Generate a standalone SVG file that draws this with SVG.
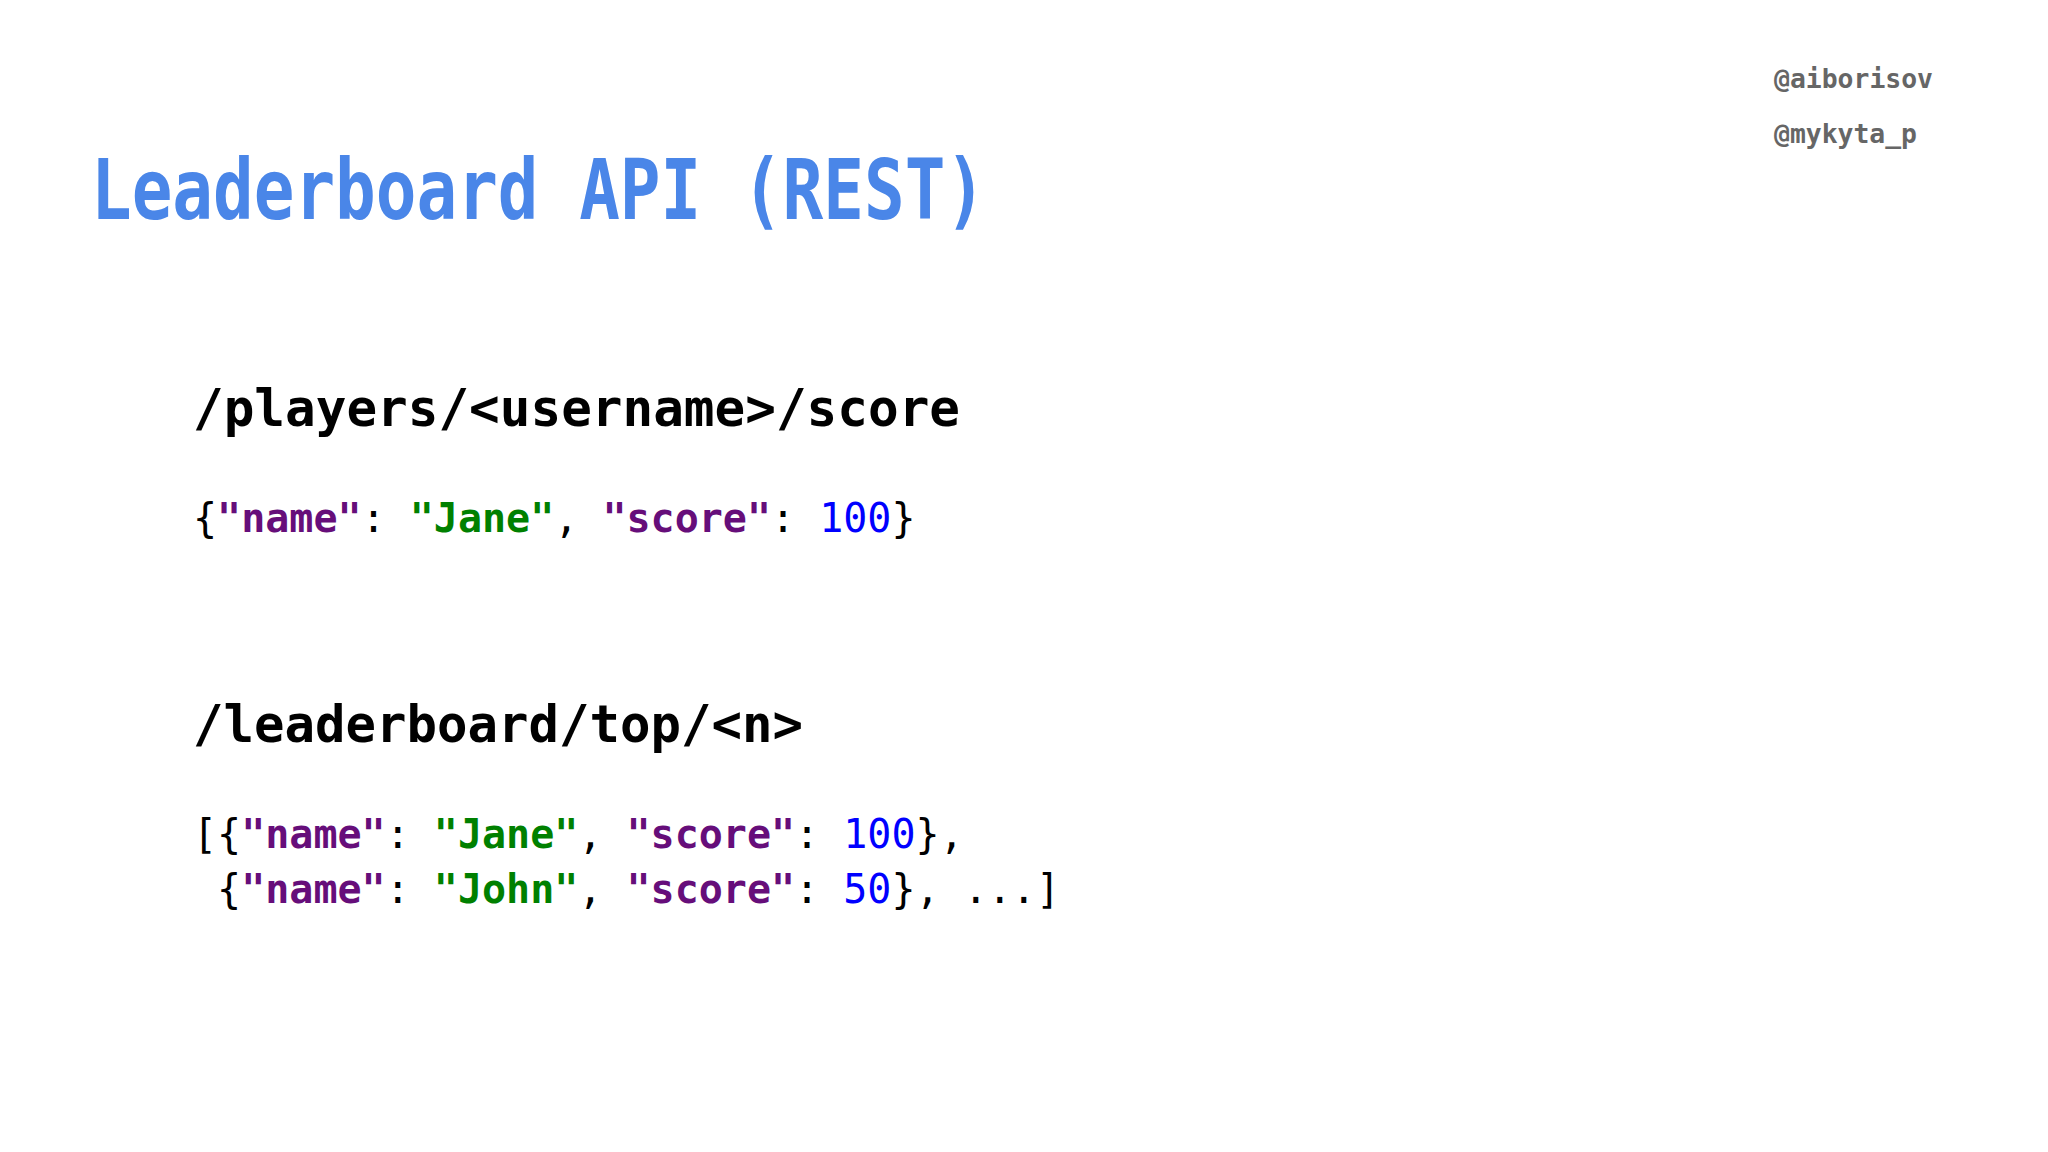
<svg xmlns="http://www.w3.org/2000/svg" width="2048" height="1152" viewBox="0 0 2048 1152">
<style>
.title{font-family:"DejaVu Sans Mono","Liberation Mono",monospace;font-weight:bold;font-size:84px;fill:#4a86e8}
.h{font-family:"DejaVu Sans Mono","Liberation Mono",monospace;font-weight:bold;font-size:51px;fill:#000}
.c{font-family:"DejaVu Sans Mono","Liberation Mono",monospace;font-size:40px;fill:#000}
.k{fill:#660e7a;font-weight:bold}
.s{fill:#008000;font-weight:bold}
.n{fill:#0000ff}
.hd{font-family:"DejaVu Sans Mono","Liberation Mono",monospace;font-weight:bold;font-size:26px;fill:#666}
</style>
<rect width="2048" height="1152" fill="#fff"/>
<g id="title"><text class="title" x="91" y="219" textLength="895" lengthAdjust="spacingAndGlyphs">Leaderboard API (REST)</text></g>
<g id="handles">
<text class="hd" x="1774" y="88" textLength="159" lengthAdjust="spacingAndGlyphs">@aiborisov</text>
<text class="hd" x="1774" y="143" textLength="143" lengthAdjust="spacingAndGlyphs">@mykyta_p</text>
</g>
<g id="endpoint1">
<text class="h" x="193" y="426" textLength="767" lengthAdjust="spacingAndGlyphs">/players/&lt;username&gt;/score</text>
<text class="c" x="193" y="532" xml:space="preserve">{<tspan class="k">"name"</tspan>: <tspan class="s">"Jane"</tspan>, <tspan class="k">"score"</tspan>: <tspan class="n">100</tspan>}</text>
</g>
<g id="endpoint2">
<text class="h" x="193" y="742" textLength="610" lengthAdjust="spacingAndGlyphs">/leaderboard/top/&lt;n&gt;</text>
<text class="c" x="193" y="848" xml:space="preserve">[{<tspan class="k">"name"</tspan>: <tspan class="s">"Jane"</tspan>, <tspan class="k">"score"</tspan>: <tspan class="n">100</tspan>},</text>
<text class="c" x="193" y="903" xml:space="preserve"> {<tspan class="k">"name"</tspan>: <tspan class="s">"John"</tspan>, <tspan class="k">"score"</tspan>: <tspan class="n">50</tspan>}, ...]</text>
</g>
<g id="connectors"/>
</svg>
